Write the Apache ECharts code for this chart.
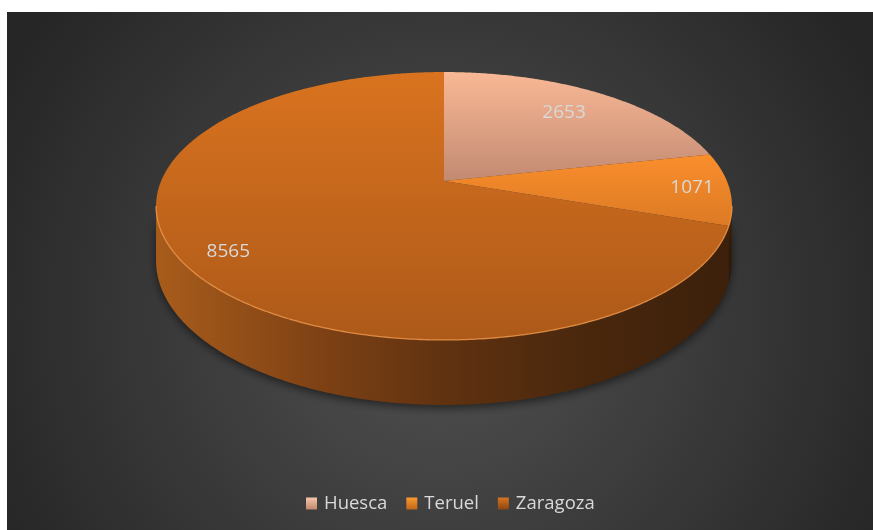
<!DOCTYPE html>
<html>
<head>
<meta charset="utf-8">
<script src="https://cdn.jsdelivr.net/npm/echarts@6/dist/echarts.min.js"></script>
<style>
  html, body { margin: 0; padding: 0; background: #ffffff; }
  #chart { width: 873px; height: 530px; }
</style>
</head>
<body>
<div id="chart"></div>
<script>
// ---- data ----
const provinces = ['Huesca', 'Teruel', 'Zaragoza'];
const values = [2653, 1071, 8565];

// ---- styles ----
const topColors = [
  ['#f9b895', '#c28a72'],
  ['#fa8e2c', '#dc7a24'],
  ['#d9731f', '#ad5919']
];
const legendColors = [
  ['#f6c6aa', '#c0876d'],
  ['#fa9a2e', '#c2661a'],
  ['#d8761f', '#8c4612']
];
const labelR = [0.75, 0.87, 0.85];

const chart = echarts.init(document.getElementById('chart'), null, { renderer: 'canvas' });

// projection of a tilted disk (perspective)
const CX = 444, CY = 181, A = 282.9, B = 129.3, K = 0.1866, D = 52.9;
function proj(t, r, drop) {
  const u = r * Math.sin(t), v = -r * Math.cos(t), w = 1 - K * v;
  return [CX + A * u / w, CY + (B * v + drop) / w];
}
const total = values.reduce((a, b) => a + b, 0);
const starts = [];
let acc = 0;
values.forEach(v => { starts.push(acc); acc += v; });

const sideA = Math.acos(-K), sideB = 2 * Math.PI - Math.acos(-K);

function arc(t0, t1, r, drop) {
  const pts = [];
  const n = Math.max(2, Math.ceil((t1 - t0) / 0.01));
  for (let i = 0; i <= n; i++) pts.push(proj(t0 + (t1 - t0) * i / n, r, drop));
  return pts;
}

function lg(c, x0, y0, x1, y1, global) {
  return new echarts.graphic.LinearGradient(x0, y0, x1, y1, [
    { offset: 0, color: c[0] }, { offset: 1, color: c[1] }
  ], global);
}

const sideGrad = new echarts.graphic.LinearGradient(157, 0, 731, 0, [
  { offset: 0, color: '#a85c1b' },
  { offset: 0.3, color: '#7c4014' },
  { offset: 0.5, color: '#603210' },
  { offset: 0.75, color: '#49270d' },
  { offset: 1, color: '#3c200b' }
], true);

function renderItem(params, api) {
  const i = params.dataIndex;
  const val = api.value(0);
  const t0 = starts[i] / total * Math.PI * 2;
  const t1 = t0 + val / total * Math.PI * 2;
  const children = [];
  // side
  const a = Math.max(t0, sideA), b = Math.min(t1, sideB);
  if (b > a) {
    const topRim = arc(a, b, 1, 0);
    const botRim = arc(a, b, 1, D).reverse();
    children.push({
      type: 'polygon',
      z2: 1,
      shape: { points: topRim.concat(botRim) },
      style: { fill: sideGrad, shadowBlur: 10, shadowColor: 'rgba(0,0,0,0.55)', shadowOffsetY: 3 }
    });
  }
  // top face
  const pts = [[CX, CY]].concat(arc(t0, t1, 1, 0));
  children.push({
    type: 'polygon',
    z2: 10,
    shape: { points: pts },
    style: { fill: lg(topColors[i], 0, 0, 0, 1, false) }
  });
  // rim highlight on front edge
  if (b > a) {
    children.push({
      type: 'polyline',
      z2: 11,
      shape: { points: arc(a, b, 1, 0) },
      style: { stroke: 'rgba(250,160,80,0.75)', lineWidth: 1.3, fill: null }
    });
  }
  // label
  const mid = (t0 + t1) / 2;
  const lp = proj(mid, labelR[i], 0);
  children.push({
    type: 'text',
    z2: 20,
    x: lp[0], y: lp[1],
    style: {
      text: String(val),
      fill: '#d9d9d9',
      font: '19px "Open Sans"',
      align: 'center',
      verticalAlign: 'middle'
    }
  });
  return { type: 'group', children: children };
}

const option = {
  backgroundColor: '#ffffff',
  animation: false,
  graphic: [{
    type: 'rect',
    z: -10,
    silent: true,
    shape: { x: 7, y: 12, width: 866, height: 518 },
    style: {
      fill: new echarts.graphic.RadialGradient(0.5, 0.58, 0.95, [
        { offset: 0, color: '#525252' },
        { offset: 1, color: '#262626' }
      ])
    }
  }],
  legend: {
    data: provinces,
    left: 301,
    top: 489,
    icon: 'rect',
    itemWidth: 11,
    itemHeight: 12,
    itemGap: 19,
    textStyle: { color: '#d9d9d9', fontSize: 18.5, fontFamily: 'Open Sans', padding: [0, 0, 0, 2] }
  },
  series: [
    {
      type: 'custom',
      name: 'pie3d',
      coordinateSystem: 'none',
      renderItem: renderItem,
      data: values.map((v, i) => ({ name: provinces[i], value: [v] })),
      z: 2
    },
    {
      type: 'pie',
      radius: [0, 0],
      center: [-100, -100],
      silent: true,
      label: { show: false },
      labelLine: { show: false },
      data: values.map((v, i) => ({
        name: provinces[i],
        value: v,
        itemStyle: { color: lg(legendColors[i], 0, 0, 0, 1, false) }
      }))
    }
  ]
};
chart.setOption(option);
</script>
</body>
</html>
